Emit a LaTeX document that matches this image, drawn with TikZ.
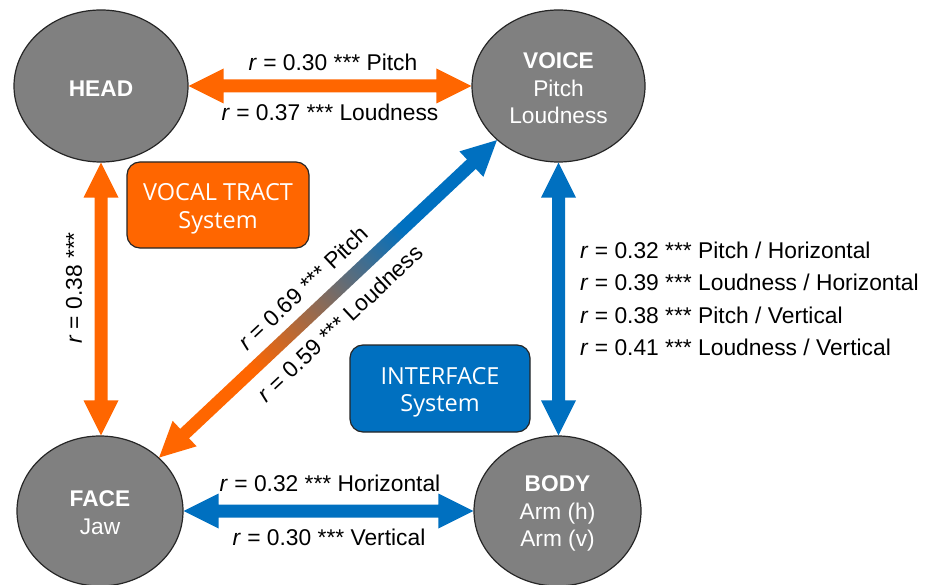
\documentclass[tikz,border=0pt]{standalone}
\usepackage{fontspec}
\setmainfont{Liberation Sans}
\newfontfamily\boxfont{Open Sans}
\usetikzlibrary{calc,shapes.geometric}

\definecolor{vtorange}{RGB}{255,102,0}
\definecolor{ifblue}{RGB}{0,112,192}
\definecolor{nodegray}{RGB}{128,128,128}
\definecolor{edgegray}{RGB}{38,38,38}

% orange-to-blue blend for the cross connection
\pgfdeclarehorizontalshading{vtoif}{100bp}{color(0bp)=(vtorange); color(34bp)=(vtorange); color(66bp)=(ifblue); color(100bp)=(ifblue)}

% double-headed block arrow between two points
% #1 name prefix, #2 start tip, #3 end tip, #4 path options
\newcommand\fatarrow[4]{%
  \coordinate (#1a) at ($(#2)!35pt!(#3)$);
  \coordinate (#1b) at ($(#3)!35pt!(#2)$);
  \path[#4] (#2) -- ($(#1a)!17.5pt!90:(#3)$) -- ($(#1a)!6.5pt!90:(#3)$)
     -- ($(#1b)!6.5pt!270:(#2)$) -- ($(#1b)!17.5pt!270:(#2)$) -- (#3)
     -- ($(#1b)!17.5pt!90:(#2)$) -- ($(#1b)!6.5pt!90:(#2)$)
     -- ($(#1a)!6.5pt!270:(#3)$) -- ($(#1a)!17.5pt!270:(#3)$) -- cycle;
}
% taller first line, pushes node text down a little
\newcommand\lowstrut[1]{\rule{0pt}{#1}}

\begin{document}
\begin{tikzpicture}[x=1pt,y=-1pt,
  ell/.style={ellipse, draw=edgegray, line width=1.2pt, fill=nodegray, text=white,
    align=center, inner sep=0pt, font=\fontsize{22.7}{27.5}\selectfont},
  sysbox/.style={rectangle, rounded corners=13pt, draw=edgegray, line width=1.2pt,
    text=white, align=center, inner sep=0pt, font=\boxfont\fontsize{23.5}{27.5}\selectfont},
  lbl/.style={inner sep=0pt, font=\fontsize{22.8}{27}\selectfont}]

\useasboundingbox[fill=white] (0,0) rectangle (925,585);

% variable nodes
\node[ell, minimum width=174pt, minimum height=152pt] (head) at (101,86) {\lowstrut{20.5pt}\textbf{HEAD}};
\node[ell, minimum width=173pt, minimum height=152pt] (voice) at (558.5,86) {\lowstrut{20.5pt}\textbf{VOICE}\\Pitch\\Loudness};
\node[ell, minimum width=166pt, minimum height=150pt] (face) at (100,511) {\lowstrut{19pt}\textbf{FACE}\\Jaw};
\node[ell, minimum width=167pt, minimum height=150pt] (body) at (557.5,511) {\lowstrut{21pt}\textbf{BODY}\\Arm (h)\\Arm (v)};

% system boxes
\node[sysbox, fill=vtorange, minimum width=182pt, minimum height=86pt] (vocal) at (218,205) {\lowstrut{25pt}VOCAL TRACT\\System};
\node[sysbox, fill=ifblue, minimum width=180pt, minimum height=87pt] (iface) at (440,388.5) {\lowstrut{25pt}INTERFACE\\System};

% connections
\fatarrow{hv}{head.east}{voice.west}{fill=vtorange}
\fatarrow{hf}{head.south}{head.south |- face.north}{fill=vtorange}
\fatarrow{vb}{voice.south}{voice.south |- body.north}{fill=ifblue}
\fatarrow{fb}{face.east}{body.west}{fill=ifblue}
\fatarrow{fv}{face.north east}{voice.south west}{shade, shading=vtoif, shading angle=43}

% correlation labels
\node[lbl] (hvp) at (333,62) {\textit{r} = 0.30 *** Pitch};
\node[lbl] (hvl) at (330,112) {\textit{r} = 0.37 *** Loudness};
\node[lbl] (fbh) at (330,483) {\textit{r} = 0.32 *** Horizontal};
\node[lbl] (fbv) at (329,537) {\textit{r} = 0.30 *** Vertical};
\node[lbl, rotate=90] (hfr) at (74,288) {\textit{r} = 0.38 ***};
\node[lbl, rotate=43.2] (fvp) at (303,288) {\textit{r} = 0.69 *** Pitch};
\node[lbl, rotate=43.2] (fvl) at (340,323) {\textit{r} = 0.59 *** Loudness};
\node[lbl, anchor=west] (vb1) at (580,250) {\textit{r} = 0.32 *** Pitch / Horizontal};
\node[lbl, anchor=west] (vb2) at (580,282.5) {\textit{r} = 0.39 *** Loudness / Horizontal};
\node[lbl, anchor=west] (vb3) at (580,315) {\textit{r} = 0.38 *** Pitch / Vertical};
\node[lbl, anchor=west] (vb4) at (580,347.5) {\textit{r} = 0.41 *** Loudness / Vertical};

\end{tikzpicture}
\end{document}
